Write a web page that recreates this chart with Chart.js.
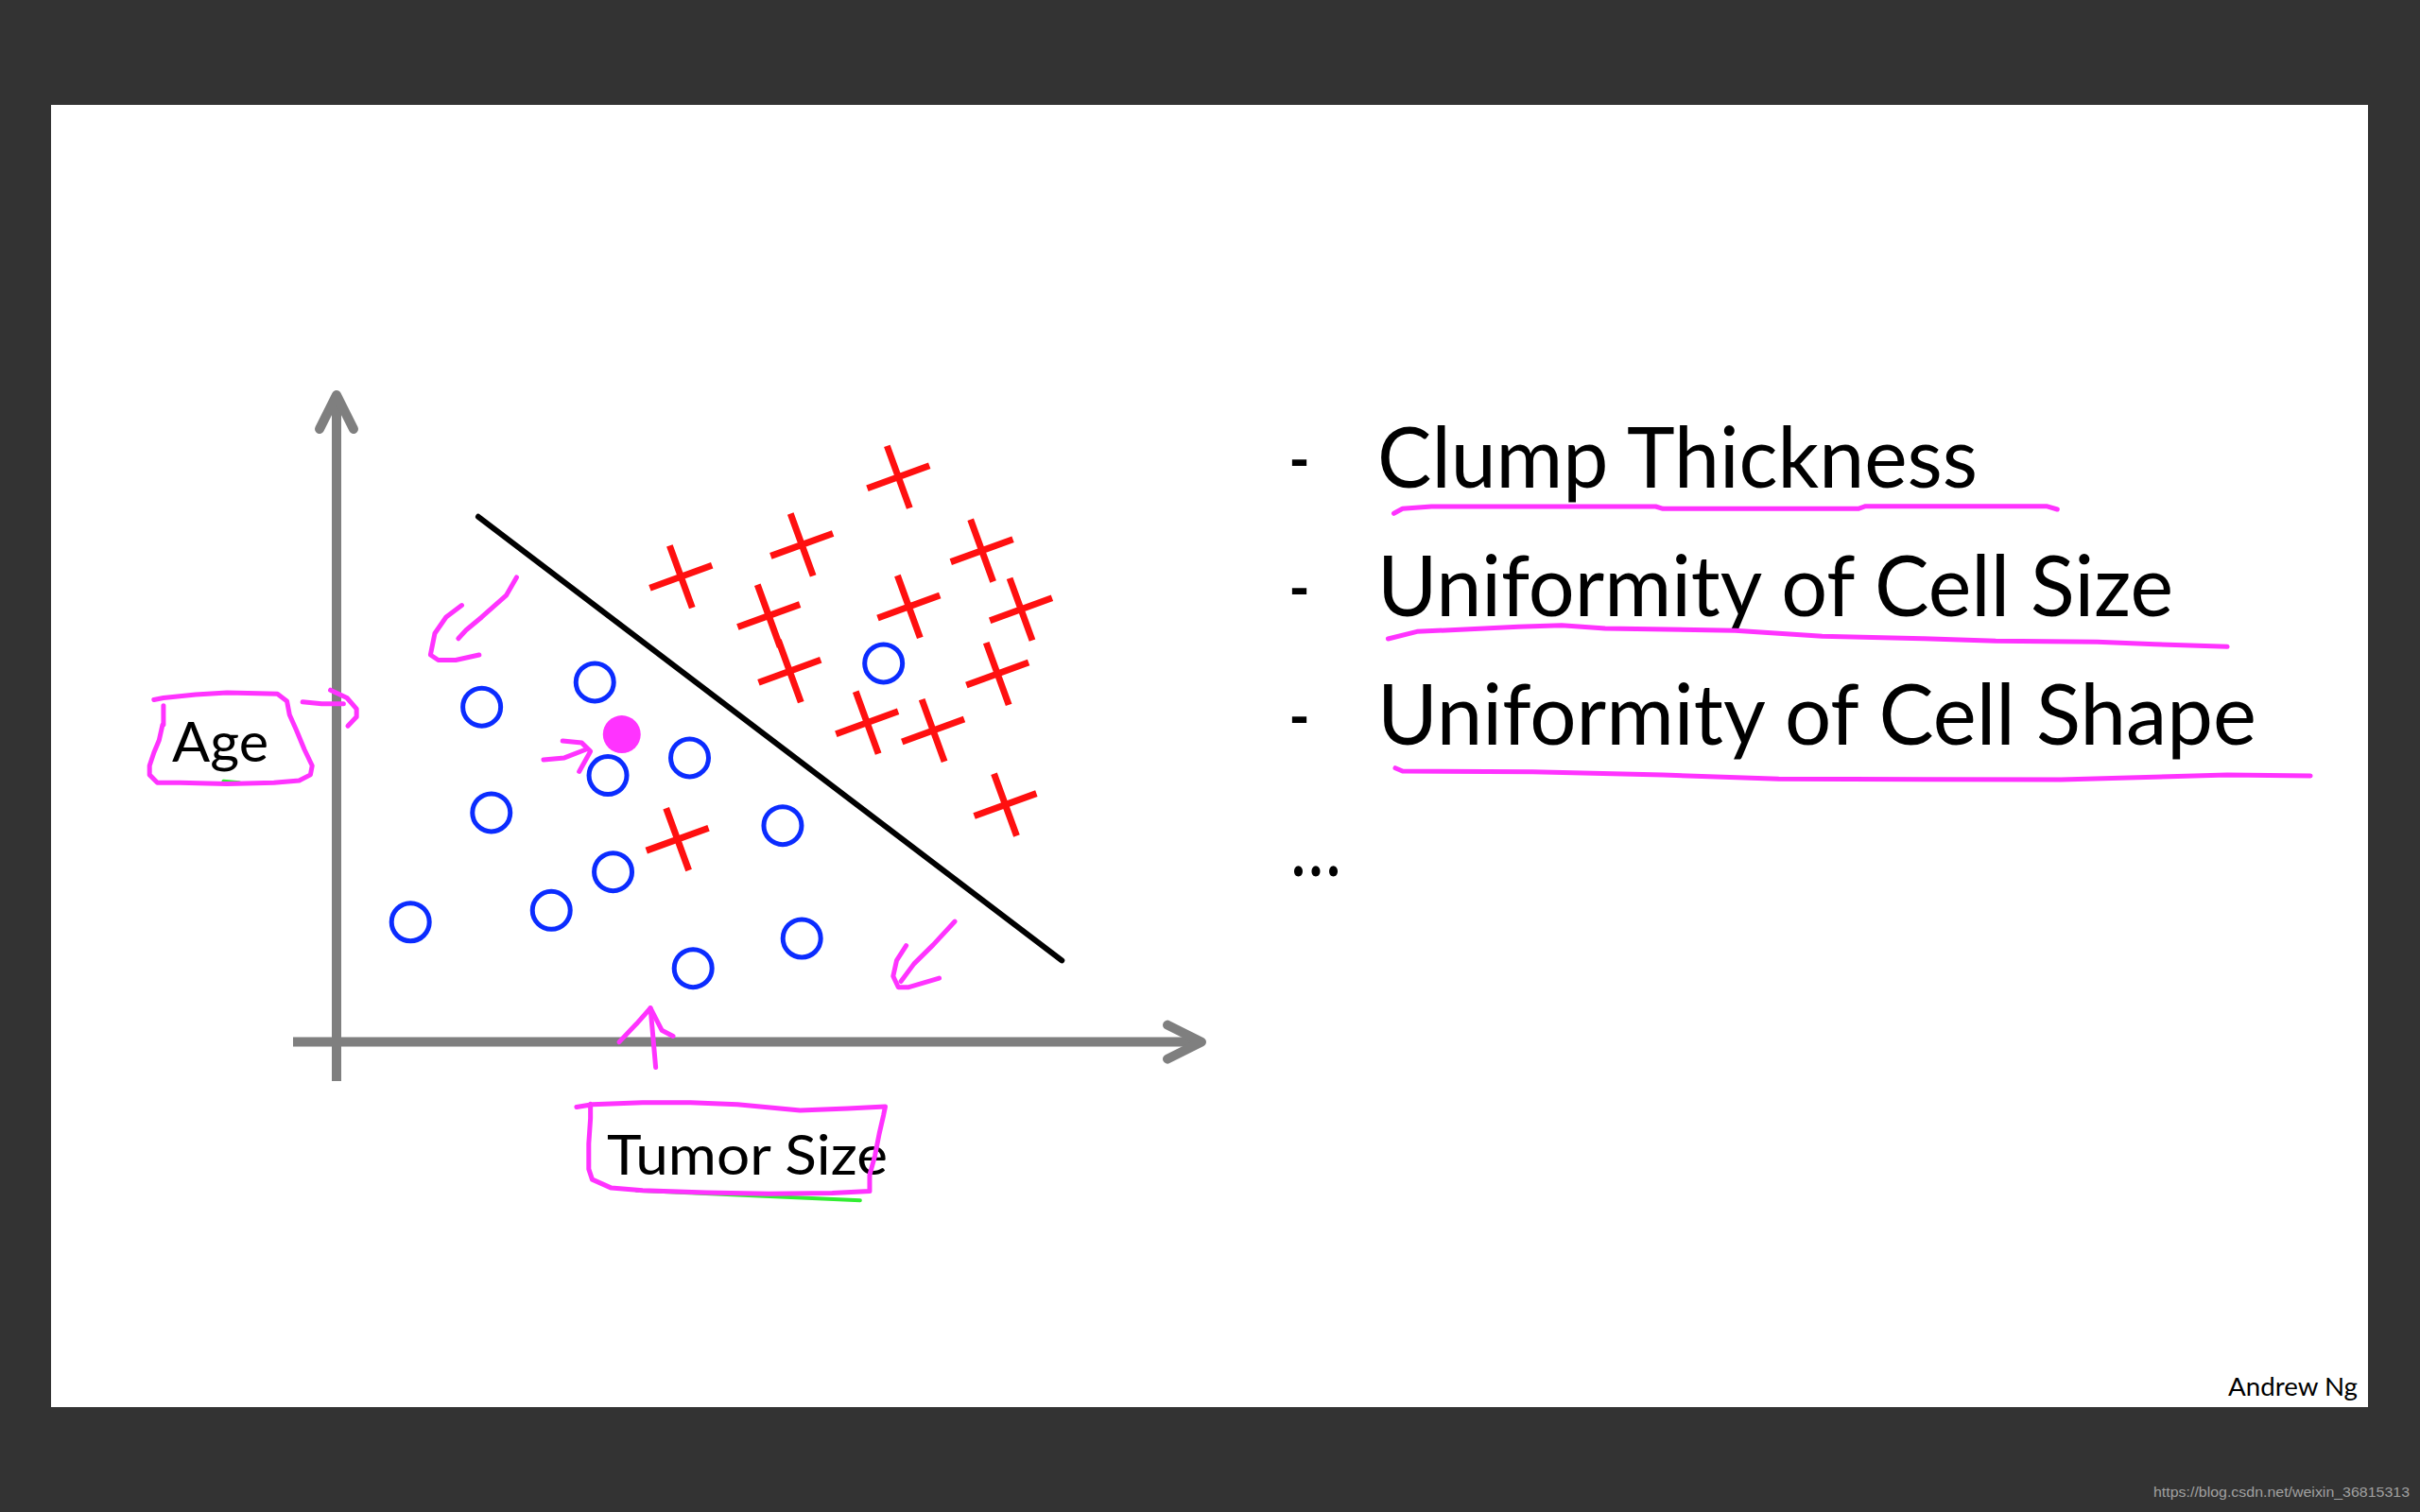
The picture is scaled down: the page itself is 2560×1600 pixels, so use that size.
<!DOCTYPE html>
<html>
<head>
<meta charset="utf-8">
<title>Tumor Size vs Age</title>
<script src="https://cdn.jsdelivr.net/npm/chart.js@4.4.1/dist/chart.umd.min.js"></script>
<style>
  html, body { margin: 0; padding: 0; background: #333333; }
  #stage { position: relative; width: 2560px; height: 1600px; overflow: hidden; }
  #slide, #plot { position: absolute; left: 0; top: 0; }
  #slide text { font-family: Lato, "Open Sans", sans-serif; fill: #000000; }
  #slide .ink { fill: none; stroke: #ff33ff; stroke-width: 5; stroke-linecap: round; stroke-linejoin: round; }
</style>
</head>
<body>
<div id="stage">
  <svg id="slide" width="2560" height="1600">
    <rect x="0" y="0" width="2560" height="1600" fill="#333333"/>
    <rect x="54" y="111" width="2451" height="1378" fill="#ffffff"/>

    <!-- axis names -->
    <text x="182" y="806" font-size="59" textLength="102" lengthAdjust="spacingAndGlyphs">Age</text>
    <text x="642" y="1243" font-size="59" textLength="297" lengthAdjust="spacingAndGlyphs">Tumor Size</text>

    <!-- feature list -->
    <text x="1363" y="516" font-size="89" textLength="23" lengthAdjust="spacingAndGlyphs">-</text>
    <text x="1457" y="516" font-size="89" textLength="635" lengthAdjust="spacingAndGlyphs">Clump Thickness</text>
    <text x="1363" y="652" font-size="89" textLength="23" lengthAdjust="spacingAndGlyphs">-</text>
    <text x="1457" y="652" font-size="89" textLength="842" lengthAdjust="spacingAndGlyphs">Uniformity of Cell Size</text>
    <text x="1363" y="788" font-size="89" textLength="23" lengthAdjust="spacingAndGlyphs">-</text>
    <text x="1457" y="788" font-size="89" textLength="930" lengthAdjust="spacingAndGlyphs">Uniformity of Cell Shape</text>
    <text x="1365" y="927" font-size="89" textLength="54" lengthAdjust="spacingAndGlyphs">…</text>

    <!-- hand drawn underlines -->
    <polyline class="ink" points="1474.5,543.3 1483.7,538.3 1514.3,536 1751.5,536 1759.2,538.3 1965.8,538.3 1973.5,535.7 2164.8,535.7 2176.3,539"/>
    <polyline class="ink" points="1468.4,676 1499,668.3 1606.1,663.3 1652,661.7 1698,665 1835.7,667.3 1927.5,673.3 2034.7,675.7 2111.2,678.3 2218.4,679.3 2279.6,681.7 2356.1,684.3"/>
    <polyline class="ink" points="1476,812.7 1483.7,816 1621.4,816.7 1759.2,820 1881.6,824.3 2180.1,825 2356.1,820 2444.1,821"/>

    <text x="2357" y="1477" font-size="26.5" textLength="137" lengthAdjust="spacingAndGlyphs">Andrew Ng</text>
    <text x="2278" y="1584" font-size="15" textLength="271" lengthAdjust="spacingAndGlyphs"
          style="font-family: 'Liberation Sans', Arial, sans-serif; fill: #a0a0a0;">https://blog.csdn.net/weixin_36815313</text>
  </svg>
  <canvas id="plot" width="2560" height="1600" style="width:2560px;height:1600px;"></canvas>
</div>

<script>
//benign tumours (o)
var benignSize = [2.97, 1.67, 3.12, 4.06, 1.78, 3.18, 2.47, 0.85, 4.10, 5.13, 5.35, 6.29];
var benignAge = [5.52, 5.14, 4.09, 4.36, 3.52, 2.61, 2.02, 1.84, 1.13, 3.32, 1.59, 5.81];
//malignant tumours (x)
var malignantSize = [6.46, 5.35, 7.42, 4.97, 6.58, 7.87, 5.21, 7.60, 6.10, 6.86, 3.96, 3.92, 7.69];
var malignantAge = [8.67, 7.63, 7.54, 6.54, 6.68, 6.64, 5.69, 5.65, 4.90, 4.78, 7.14, 3.11, 3.64];
//the new patient
var patientSize = [3.28];
var patientAge = [4.72];
//decision boundary
var boundarySize = [1.63, 8.34];
var boundaryAge = [8.06, 1.25];

//hand drawn notes, [size, age] pairs
var arrowUpperShaft = [[2.07, 7.13], [1.95, 6.85], [1.67, 6.52], [1.49, 6.32], [1.40, 6.19]];
var arrowUpperHead = [[1.44, 6.70], [1.26, 6.52], [1.13, 6.27], [1.08, 5.94], [1.17, 5.86], [1.37, 5.86], [1.64, 5.94]];
var arrowLowerShaft = [[7.11, 1.85], [6.86, 1.49], [6.64, 1.20], [6.49, 0.93]];
var arrowLowerHead = [[6.55, 1.48], [6.44, 1.25], [6.40, 1.01], [6.46, 0.84], [6.58, 0.84], [6.93, 0.98]];
var arrowPatientShaft = [[2.38, 4.33], [2.62, 4.36], [2.87, 4.49]];
var arrowPatientHead = [[2.60, 4.62], [2.82, 4.59], [2.92, 4.46], [2.79, 4.15]];
var arrowSizeShaft = [[3.67, -0.39], [3.61, 0.52]];
var arrowSizeHead = [[3.25, 0.00], [3.45, 0.28], [3.61, 0.52], [3.74, 0.18], [3.87, 0.09]];
var arrowAgeShaft = [[-0.39, 5.22], [-0.17, 5.19], [0.08, 5.19]];
var arrowAgeHead = [[-0.07, 5.40], [0.12, 5.28], [0.23, 5.11], [0.23, 4.99], [0.13, 4.85]];
var ageBox = [[-2.10, 5.25], [-1.99, 5.28], [-1.62, 5.33], [-1.26, 5.36], [-0.90, 5.35], [-0.68, 5.34], [-0.57, 5.23],
    [-0.54, 5.02], [-0.46, 4.78], [-0.37, 4.49], [-0.28, 4.24], [-0.30, 4.10], [-0.43, 4.01], [-0.72, 3.98],
    [-1.26, 3.96], [-1.80, 3.98], [-2.06, 3.98], [-2.15, 4.10], [-2.15, 4.24], [-2.10, 4.44], [-2.04, 4.63],
    [-2.00, 4.87], [-1.99, 5.16]];
var sizeBox = [[2.76, -1.00], [2.94, -0.96], [3.52, -0.93], [4.07, -0.93], [4.61, -0.96], [5.33, -1.05], [5.88, -1.02],
    [6.31, -0.99], [6.29, -1.12], [6.24, -1.41], [6.19, -1.75], [6.13, -2.04], [6.13, -2.29], [5.70, -2.32],
    [4.97, -2.33], [4.25, -2.31], [3.52, -2.28], [3.16, -2.24], [2.94, -2.11], [2.90, -1.95], [2.90, -1.56],
    [2.92, -1.17], [2.92, -0.95]];
var greenSize = [[3.45, -2.28], [6.02, -2.43]];
var greenAge = [[-1.30, 4.00], [-1.12, 3.98]];

function toPoints(xs, ys) {
    return xs.map(function (x, i) { return {x: x, y: ys[i]}; });
}

function pairsToPoints(list) {
    return list.map(function (p) { return {x: p[0], y: p[1]}; });
}

//one pen stroke as a line dataset
function stroke(list, color, width) {
    return {
        data: pairsToPoints(list),
        showLine: true,
        borderColor: color,
        borderWidth: width,
        borderCapStyle: 'round',
        borderJoinStyle: 'round',
        pointRadius: 0,
        pointHoverRadius: 0,
        tension: 0,
        fill: false,
        clip: false
    };
}

//grey hand drawn axes with arrow heads, under the ink
var axisArrows = {
    id: 'axisArrows',
    beforeDatasetsDraw: function (chart) {
        var ctx = chart.ctx;
        var xs = chart.scales.x, ys = chart.scales.y;
        var x0 = xs.getPixelForValue(0), y0 = ys.getPixelForValue(0);
        var xTip = xs.right - 5, yTip = ys.top + 5;
        ctx.save();
        ctx.strokeStyle = '#7f7f7f';
        ctx.lineWidth = 10;
        ctx.lineCap = 'butt';
        ctx.beginPath();
        ctx.moveTo(xs.left, y0);
        ctx.lineTo(xTip, y0);
        ctx.moveTo(x0, ys.bottom);
        ctx.lineTo(x0, yTip);
        ctx.stroke();
        ctx.lineCap = 'round';
        ctx.lineJoin = 'round';
        ctx.beginPath();
        ctx.moveTo(xTip - 36, y0 - 18);
        ctx.lineTo(xTip, y0);
        ctx.lineTo(xTip - 36, y0 + 18);
        ctx.moveTo(x0 - 18, yTip + 36);
        ctx.lineTo(x0, yTip);
        ctx.lineTo(x0 + 18, yTip + 36);
        ctx.stroke();
        ctx.restore();
    }
};

var magenta = '#ff33ff';
var datasets = [
    {
        label: 'Malignant',
        data: toPoints(malignantSize, malignantAge),
        pointStyle: 'cross',
        pointRotation: -20,
        pointRadius: 35,
        pointBorderWidth: 7,
        pointBorderColor: '#ff1010',
        clip: false
    },
    {
        label: 'Benign',
        data: toPoints(benignSize, benignAge),
        pointStyle: 'circle',
        pointRadius: 20,
        pointBorderWidth: 5,
        pointBorderColor: '#0b2cff',
        pointBackgroundColor: 'rgba(0,0,0,0)',
        clip: false
    },
    {
        label: 'Patient',
        data: toPoints(patientSize, patientAge),
        pointStyle: 'circle',
        pointRadius: 20,
        pointBorderWidth: 0,
        pointBackgroundColor: magenta,
        clip: false
    },
    {
        label: 'Boundary',
        data: toPoints(boundarySize, boundaryAge),
        showLine: true,
        borderColor: '#000000',
        borderWidth: 6,
        borderCapStyle: 'round',
        pointRadius: 0,
        fill: false,
        clip: false
    },
    stroke(arrowUpperShaft, magenta, 5),
    stroke(arrowUpperHead, magenta, 5),
    stroke(arrowLowerShaft, magenta, 5),
    stroke(arrowLowerHead, magenta, 5),
    stroke(arrowPatientShaft, magenta, 5),
    stroke(arrowPatientHead, magenta, 5),
    stroke(arrowSizeShaft, magenta, 5),
    stroke(arrowSizeHead, magenta, 5),
    stroke(arrowAgeShaft, magenta, 5),
    stroke(arrowAgeHead, magenta, 5),
    stroke(ageBox, magenta, 5),
    stroke(sizeBox, magenta, 5),
    stroke(greenSize, '#33ee33', 4),
    stroke(greenAge, '#33ee33', 4)
];

new Chart(document.getElementById('plot').getContext('2d'), {
    type: 'scatter',
    data: {datasets: datasets},
    options: {
        responsive: false,
        animation: false,
        events: [],
        layout: {padding: {left: 310, right: 1284, top: 413, bottom: 456}},
        plugins: {
            legend: {display: false},
            tooltip: {enabled: false}
        },
        scales: {
            x: {type: 'linear', min: -0.5, max: 10, display: false},
            y: {type: 'linear', min: -0.6, max: 10, display: false}
        }
    },
    plugins: [axisArrows]
});
</script>
</body>
</html>
